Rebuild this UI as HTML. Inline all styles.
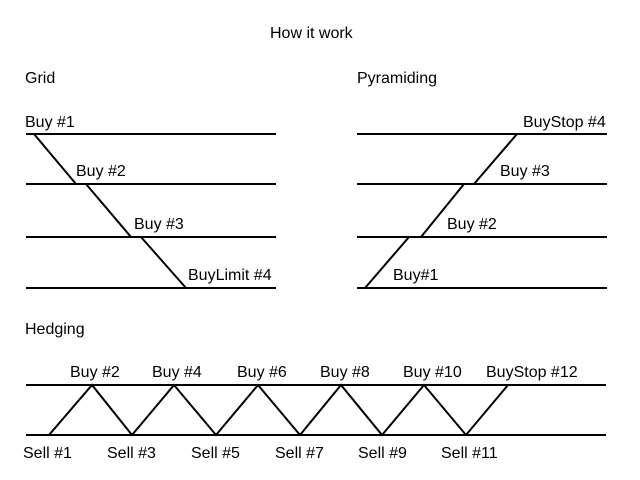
<!DOCTYPE html>
<html><head><meta charset="utf-8"><style>
html,body{margin:0;padding:0;background:#fff;}
svg{display:block;}
text{font-family:"Liberation Sans",Arial,sans-serif;font-size:16px;fill:#000;}
</style></head><body>
<svg width="640" height="480" viewBox="0 0 640 480" xmlns="http://www.w3.org/2000/svg">
<g stroke="#000" stroke-width="2" fill="none">
<line x1="26" y1="134" x2="276" y2="134"/>
<line x1="26" y1="184" x2="276" y2="184"/>
<line x1="26" y1="237" x2="276" y2="237"/>
<line x1="26" y1="288" x2="276" y2="288"/>
<line x1="34" y1="134" x2="76" y2="184"/>
<line x1="86" y1="184" x2="131" y2="237"/>
<line x1="141" y1="237" x2="186" y2="288"/>
<line x1="357" y1="134" x2="607" y2="134"/>
<line x1="357" y1="184" x2="607" y2="184"/>
<line x1="357" y1="237" x2="607" y2="237"/>
<line x1="357" y1="288" x2="607" y2="288"/>
<line x1="365" y1="288" x2="409" y2="237"/>
<line x1="421" y1="237" x2="464" y2="184"/>
<line x1="474" y1="184" x2="517" y2="134"/>
<line x1="26" y1="385" x2="606" y2="385"/>
<line x1="26" y1="435" x2="606" y2="435"/>
<polyline points="49,435 92,385 132,435 174,385 216,435 258,385 300,435 341,385 382,435 424,385 466,435 508,385"/>
</g>
<text x="270" y="38">How it work</text>
<text x="25" y="83">Grid</text>
<text x="357" y="83">Pyramiding</text>
<text x="25" y="127">Buy #1</text>
<text x="76" y="176">Buy #2</text>
<text x="134" y="229">Buy #3</text>
<text x="188" y="280">BuyLimit #4</text>
<text x="523" y="127">BuyStop #4</text>
<text x="500" y="176">Buy #3</text>
<text x="447" y="229">Buy #2</text>
<text x="393" y="280">Buy#1</text>
<text x="25" y="334">Hedging</text>
<text x="70" y="377">Buy #2</text>
<text x="152" y="377">Buy #4</text>
<text x="237" y="377">Buy #6</text>
<text x="320" y="377">Buy #8</text>
<text x="403" y="377">Buy #10</text>
<text x="486" y="377">BuyStop #12</text>
<text x="23" y="458">Sell #1</text>
<text x="107" y="458">Sell #3</text>
<text x="191" y="458">Sell #5</text>
<text x="275" y="458">Sell #7</text>
<text x="358" y="458">Sell #9</text>
<text x="441" y="458">Sell #11</text>
</svg>
</body></html>
